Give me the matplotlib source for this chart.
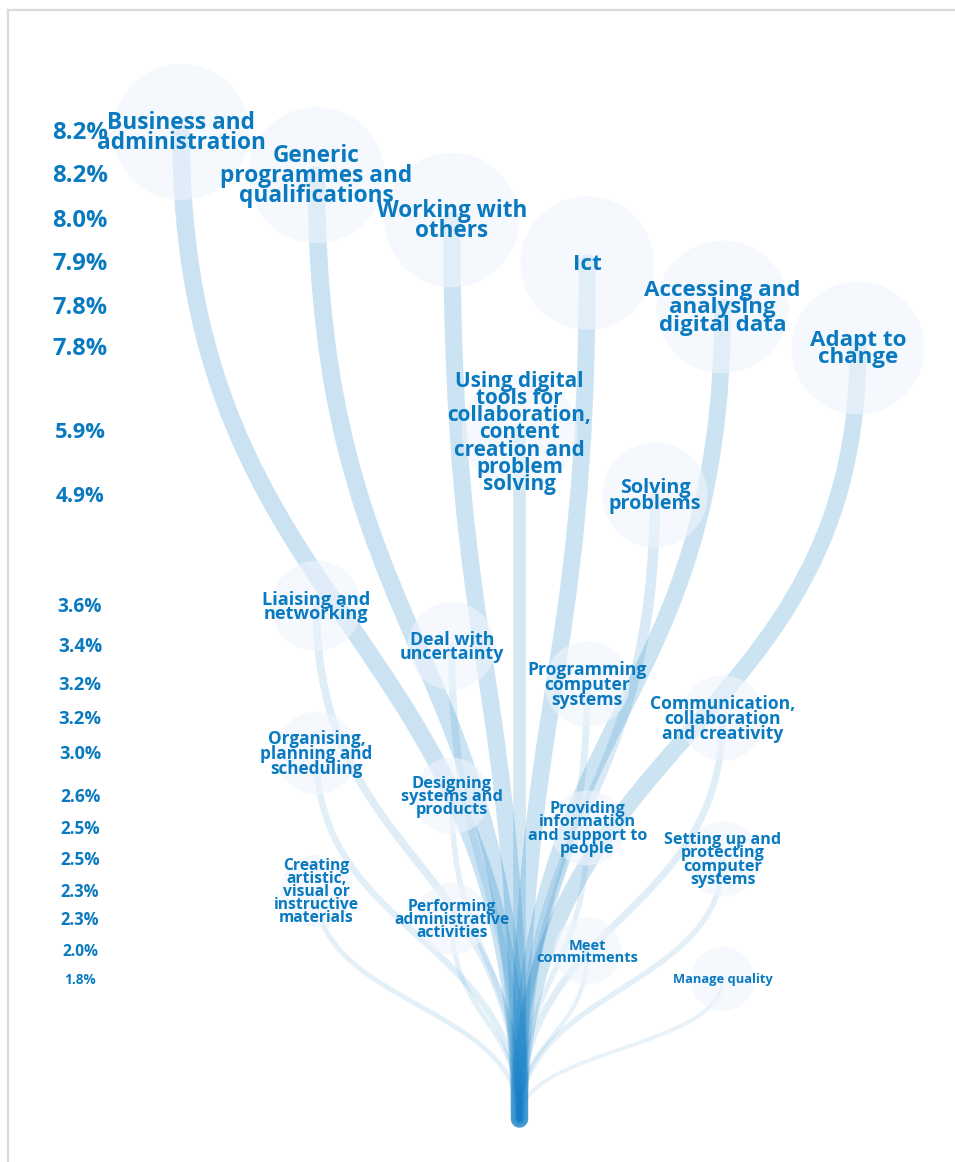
import numpy as np
import matplotlib
matplotlib.use('Agg')
import matplotlib.pyplot as plt
from matplotlib.path import Path
from matplotlib.patches import PathPatch, Circle
from matplotlib.lines import Line2D

# skills / qualifications and their share (%)
skills = [
    "Business and\nadministration",
    "Generic\nprogrammes and\nqualifications",
    "Working with\nothers",
    "Ict",
    "Accessing and\nanalysing\ndigital data",
    "Adapt to\nchange",
    "Using digital\ntools for\ncollaboration,\ncontent\ncreation and\nproblem\nsolving",
    "Solving\nproblems",
    "Liaising and\nnetworking",
    "Deal with\nuncertainty",
    "Programming\ncomputer\nsystems",
    "Communication,\ncollaboration\nand creativity",
    "Organising,\nplanning and\nscheduling",
    "Designing\nsystems and\nproducts",
    "Providing\ninformation\nand support to\npeople",
    "Setting up and\nprotecting\ncomputer\nsystems",
    "Creating\nartistic,\nvisual or\ninstructive\nmaterials",
    "Performing\nadministrative\nactivities",
    "Meet\ncommitments",
    "Manage quality",
]
shares = [8.2, 8.2, 8.0, 7.9, 7.8, 7.8, 5.9, 4.9, 3.6, 3.4,
          3.2, 3.2, 3.0, 2.6, 2.5, 2.5, 2.3, 2.3, 2.0, 1.8]

# tree layout: column slot and depth of every node
slot = [0, 1, 2, 3, 4, 5, 2.5, 3.5, 1, 2, 3, 4, 1, 2, 3, 4, 1, 2, 3, 4]
depth = [132, 175, 220, 263, 307, 348, 432, 495, 606, 646,
         684, 718, 753, 796, 828, 859, 891, 919, 951, 979]

W, H = 955, 1162
fig = plt.figure(figsize=(W / 100, H / 100), dpi=100)
ax = fig.add_axes([0, 0, 1, 1])
ax.set_xlim(0, W)
ax.set_ylim(H, 0)
ax.axis('off')

text_blue = '#0a7ac0'
line_blue = '#0f7ec6'
x0, dx = 181, 135.4
root_x = x0 + 2.5 * dx
root_y = 1119
vmax = max(shares)
vmin = min(shares)


def font_size(v):
    return 8.8 + 6.6 * np.sqrt((v - vmin) / (vmax - vmin))


# branches
for v, s, d in zip(shares, slot, depth):
    xn = x0 + s * dx
    ym = (root_y + d) / 2
    verts = [(root_x, root_y), (root_x, ym), (xn, ym), (xn, d)]
    codes = [Path.MOVETO, Path.CURVE4, Path.CURVE4, Path.CURVE4]
    p = PathPatch(Path(verts, codes), fill=False, edgecolor=line_blue,
                  lw=1.55 * v, alpha=0.065 + 0.019 * v, zorder=1)
    p.set_capstyle('round')
    p.set_joinstyle('round')
    ax.add_patch(p)

# bubbles
for v, s, d in zip(shares, slot, depth):
    r = 68 * np.sqrt(v / vmax)
    ax.add_patch(Circle((x0 + s * dx, d), r, facecolor=(239/255, 245/255, 252/255),
                        edgecolor='none', alpha=0.62, zorder=2))

# labels
for name, v, s, d in zip(skills, shares, slot, depth):
    fs = font_size(v)
    ax.text(x0 + s * dx, d + 1, name, ha='center', va='center', multialignment='center',
            fontsize=fs * 1.06, fontweight='bold', family='Open Sans', color=text_blue,
            linespacing=0.76, zorder=3)
    ax.text(80, d + 1, f"{v:.1f}%", ha='center', va='center', fontsize=fs * 1.12,
            fontweight='bold', family='Open Sans', color=text_blue, zorder=3)

# frame
fig.add_artist(Line2D([7.5 / W, 1], [1 - 9.5 / H] * 2, transform=fig.transFigure,
                      color='#dadada', lw=1.6))
fig.add_artist(Line2D([7.5 / W] * 2, [0, 1 - 9.5 / H], transform=fig.transFigure,
                      color='#dadada', lw=1.6))

fig.savefig('out.png', dpi=100, facecolor='white')
